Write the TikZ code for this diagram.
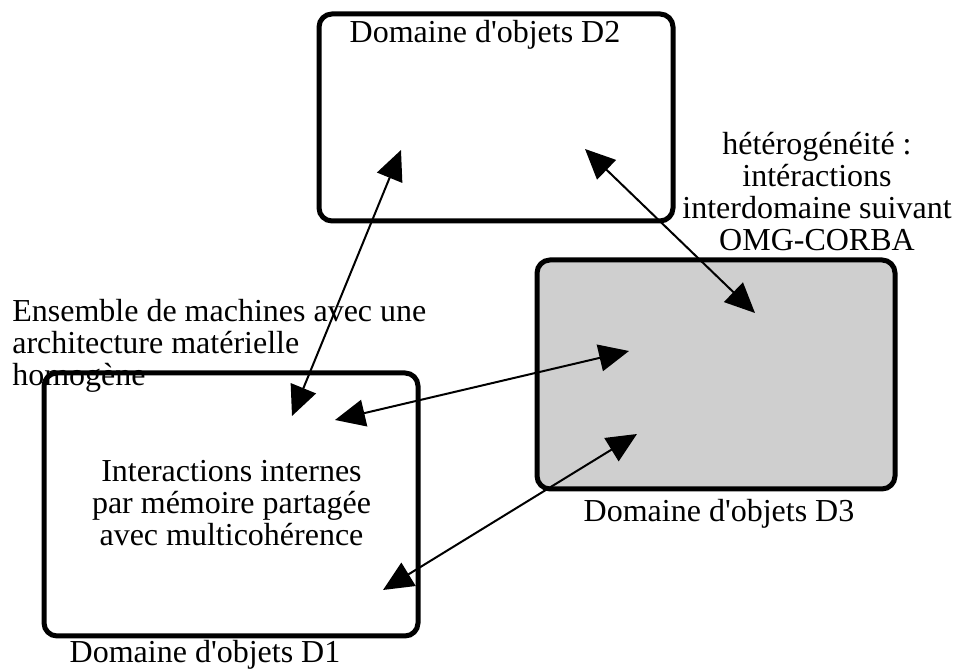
\documentclass[tikz,border=0pt]{standalone}
\usepackage{fontspec}
\setmainfont{Liberation Serif}
\usetikzlibrary{arrows.meta}

\begin{document}
\begin{tikzpicture}[x=0.5pt,y=-0.5pt,
  txt/.style={font=\fontsize{16}{15.85}\selectfont, inner sep=0pt, outer sep=0pt},
  domainbox/.style={draw, line width=2.5pt, rounded corners=6.5pt, inner sep=0pt, outer sep=0pt},
  shaded/.style={fill=black!19},
  link/.style={line width=1pt,
    {Triangle[length=15pt,width=13.5pt]}-{Triangle[length=15pt,width=13.5pt]}},
]
\useasboundingbox (0,0) rectangle (954,672);

% free texts
\node[txt, anchor=base west, text width=230pt, align=flush left] (machines) at (12.3,322)
  {Ensemble de machines avec une\\architecture matérielle\\homogène};
\node[txt, anchor=base, text width=170pt, align=flush center] (corba) at (817,155)
  {hétérogénéité :\\intéractions\\interdomaine suivant\\OMG-CORBA};

% object domains
\node[domainbox, minimum width=177pt, minimum height=103.5pt] (D2) at (496,117.5) {};
\node[domainbox, shaded, minimum width=179pt, minimum height=114.5pt] (D3) at (716,374.5) {};
\node[domainbox, minimum width=187pt, minimum height=131.5pt] (D1) at (231,504.5) {};

% domain captions
\node[txt, anchor=base] (D2label) at (485,43) {Domaine d\textquotesingle objets D2};
\node[txt, anchor=base] (D3label) at (719,522) {Domaine d\textquotesingle objets D3};
\node[txt, anchor=base] (D1label) at (205,663) {Domaine d\textquotesingle objets D1};
\node[txt, anchor=base, text width=170pt, align=flush center] (internal) at (231.5,481.7)
  {Interactions internes\\par mémoire partagée\\avec multicohérence};

% connector end points inside the domains
\coordinate (d1a) at (292,416);
\coordinate (d2a) at (401,150);
\coordinate (d2b) at (585,149);
\coordinate (d3a) at (755,313);
\coordinate (d1b) at (335,420);
\coordinate (d3b) at (629,351);
\coordinate (d1c) at (383,590);
\coordinate (d3c) at (637,434);

% interactions
\draw[link] (d1a) -- (d2a);
\draw[link] (d2b) -- (d3a);
\draw[link] (d1b) -- (d3b);
\draw[link] (d1c) -- (d3c);
\end{tikzpicture}
\end{document}
